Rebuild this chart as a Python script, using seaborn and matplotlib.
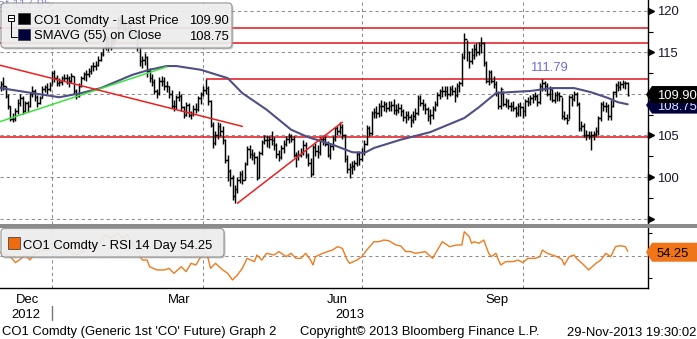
import matplotlib
matplotlib.use("Agg")
import matplotlib.pyplot as plt
import matplotlib.transforms as mtransforms
from matplotlib.patches import Polygon, FancyBboxPatch, Rectangle
from matplotlib.lines import Line2D
import numpy as np
import pandas as pd
import seaborn as sns

# ---------------------------------------------------------------- data
ticker = "CO1 Comdty"
first_session = "2012-11-29"
holidays = ["2012-12-25", "2013-01-01", "2013-03-29"]

close = [
    110.8, 111.2, 110.9, 109.8, 108.6, 107.0, 107.0, 107.9, 108.9, 109.5,
    107.9, 108.9, 108.6, 110.0, 110.4, 109.6, 108.9, 109.5, 110.6, 110.8,
    110.6, 111.1, 112.5, 111.9, 111.3, 111.4, 111.9, 111.9, 111.9, 111.6,
    112.2, 110.3, 109.7, 111.0, 111.9, 112.4, 112.4, 112.8, 113.3, 113.3,
    113.5, 114.1, 114.8, 115.6, 116.8, 115.6, 116.5, 116.6, 117.2, 118.9,
    118.4, 118.7, 117.8, 118.0, 117.7, 117.4, 117.5, 115.6, 113.9, 114.1,
    114.4, 112.7, 111.9, 111.4, 110.4, 110.1, 111.6, 111.6, 111.0, 110.9,
    110.0, 108.6, 108.5, 109.6, 109.8, 108.4, 107.5, 108.7, 107.5, 107.6,
    108.2, 108.2, 109.5, 110.0, 110.5, 110.7, 109.1, 106.3, 104.1, 105.0,
    106.2, 105.6, 104.5, 102.1, 100.7, 99.9, 97.7, 98.6, 99.7, 100.4,
    99.6, 101.6, 103.4, 102.8, 102.6, 102.4, 99.9, 102.9, 104.2, 104.5,
    104.4, 104.6, 104.4, 103.9, 102.8, 102.4, 103.5, 104.0, 104.6, 104.9,
    104.6, 102.7, 102.6, 102.6, 103.0, 103.9, 102.6, 101.7, 100.4, 103.6,
    103.1, 103.0, 104.6, 104.6, 104.0, 102.7, 103.7, 104.6, 105.9, 105.5,
    106.0, 105.1, 102.2, 101.0, 101.2, 101.3, 101.7, 102.8, 102.2, 103.0,
    104.0, 105.9, 105.3, 107.7, 107.8, 107.7, 108.5, 108.5, 108.8, 108.3,
    108.6, 108.7, 108.1, 108.1, 108.3, 107.9, 107.2, 107.5, 107.2, 106.9,
    107.4, 107.7, 109.5, 108.9, 108.7, 108.2, 107.4, 107.5, 108.2, 108.8,
    109.9, 110.4, 110.4, 110.4, 110.0, 110.6, 110.4, 109.9, 111.0, 111.3,
    114.4, 116.6, 115.0, 114.0, 114.7, 115.4, 115.0, 115.9, 116.1, 113.7,
    111.5, 112.6, 111.6, 111.2, 110.1, 108.6, 110.6, 108.8, 109.2, 108.6,
    108.6, 108.3, 107.7, 108.6, 108.4, 107.9, 109.2, 109.0, 109.5, 109.7,
    109.7, 109.0, 111.0, 111.3, 111.0, 110.0, 110.6, 109.3, 109.9, 110.0,
    109.7, 107.3, 107.1, 106.9, 109.6, 109.4, 110.0, 108.8, 105.9, 106.2,
    105.1, 105.0, 104.9, 105.1, 105.2, 105.6, 107.1, 108.8, 108.5, 108.5,
    107.3, 108.6, 110.2, 111.1, 110.8, 111.2, 111.3, 111.3, 109.9,
]
high = [
    111.4, 111.6, 112.0, 111.0, 110.0, 108.6, 107.7, 108.3, 109.4, 110.0,
    109.8, 109.2, 109.2, 110.2, 110.9, 110.6, 109.9, 109.8, 110.9, 111.1,
    111.3, 111.4, 112.8, 112.9, 112.3, 111.9, 112.2, 112.4, 112.4, 112.2,
    112.5, 112.2, 110.6, 111.3, 112.1, 112.6, 112.9, 113.1, 113.5, 113.8,
    114.0, 114.5, 115.0, 115.8, 117.0, 116.9, 116.8, 117.0, 117.5, 119.2,
    119.5, 119.0, 118.9, 118.4, 118.5, 118.0, 118.0, 117.6, 115.7, 114.6,
    114.9, 114.5, 113.1, 112.4, 111.8, 110.6, 112.0, 112.2, 112.0, 111.6,
    111.0, 110.5, 109.3, 109.9, 110.3, 110.0, 108.6, 109.0, 108.9, 107.9,
    108.7, 108.9, 109.7, 110.2, 110.9, 111.79, 111.0, 109.3, 106.6, 105.5,
    106.6, 106.5, 106.1, 104.6, 102.7, 101.0, 100.2, 99.0, 100.0, 100.7,
    100.9, 101.8, 103.7, 103.8, 103.4, 103.0, 102.5, 103.1, 104.5, 105.1,
    105.0, 104.9, 105.5, 104.8, 104.1, 103.3, 103.9, 104.5, 104.9, 105.3,
    105.2, 104.9, 103.0, 103.3, 103.5, 104.5, 104.2, 102.9, 102.3, 103.9,
    104.1, 103.8, 104.8, 105.0, 104.9, 104.3, 104.0, 104.9, 106.0, 106.1,
    106.6, 106.4, 105.2, 102.6, 101.7, 101.9, 102.1, 103.1, 103.1, 103.5,
    104.4, 106.3, 106.1, 108.0, 108.3, 108.5, 108.9, 109.3, 109.1, 109.0,
    109.2, 109.2, 109.4, 108.8, 108.9, 108.8, 108.2, 107.9, 107.9, 107.6,
    107.9, 108.3, 109.9, 109.9, 109.4, 108.9, 108.4, 108.2, 108.5, 109.2,
    110.2, 110.6, 111.0, 110.9, 111.0, 110.9, 111.1, 110.8, 111.3, 111.6,
    114.9, 117.3, 116.5, 115.2, 115.5, 116.0, 116.1, 116.2, 116.8, 116.2,
    114.0, 112.9, 112.9, 112.1, 111.6, 110.3, 110.8, 110.4, 109.5, 109.4,
    109.0, 109.1, 108.6, 108.9, 109.0, 108.5, 109.4, 109.6, 109.9, 110.0,
    110.2, 110.0, 111.3, 111.79, 111.6, 111.3, 111.0, 110.6, 110.2, 110.4,
    110.2, 109.6, 107.9, 107.6, 109.9, 110.0, 110.4, 110.2, 109.0, 106.7,
    106.5, 105.7, 105.6, 105.6, 105.6, 106.0, 107.3, 109.0, 109.1, 109.0,
    108.8, 109.3, 110.4, 111.3, 111.5, 111.6, 111.7, 111.6, 111.4,
]
low = [
    110.0, 110.4, 110.5, 109.5, 108.2, 106.7, 106.6, 106.8, 107.6, 108.5,
    107.6, 107.8, 107.8, 108.4, 109.6, 109.2, 108.4, 108.8, 109.5, 110.2,
    110.0, 110.4, 111.2, 111.4, 111.0, 110.9, 111.1, 111.5, 111.2, 110.8,
    111.3, 110.0, 109.4, 109.6, 110.8, 111.7, 111.6, 112.0, 112.4, 112.8,
    112.9, 113.3, 113.9, 114.5, 115.3, 115.2, 115.3, 115.8, 116.2, 117.0,
    117.8, 117.6, 117.4, 117.1, 117.3, 116.9, 116.8, 115.1, 113.4, 113.1,
    113.5, 112.0, 111.4, 110.9, 110.0, 109.5, 109.9, 110.9, 110.5, 110.2,
    109.5, 108.3, 107.9, 108.2, 109.1, 108.0, 107.1, 107.3, 107.2, 107.0,
    107.3, 107.7, 108.0, 108.8, 109.7, 110.0, 108.7, 106.0, 103.5, 103.8,
    104.6, 104.9, 104.0, 101.7, 99.5, 98.9, 97.3, 96.9, 98.1, 99.3,
    99.2, 99.7, 101.4, 102.3, 102.1, 101.6, 99.6, 99.9, 102.7, 104.0,
    103.6, 103.5, 103.9, 103.3, 102.3, 101.9, 102.2, 102.9, 103.7, 104.1,
    104.2, 102.4, 101.2, 102.0, 102.4, 102.6, 102.3, 101.3, 100.0, 100.2,
    102.5, 102.3, 102.6, 103.9, 103.7, 102.4, 102.2, 103.2, 104.3, 105.0,
    105.2, 104.6, 101.8, 100.5, 99.9, 100.4, 100.8, 101.3, 101.5, 101.9,
    102.6, 103.9, 104.9, 105.1, 107.1, 107.1, 107.2, 107.4, 107.9, 107.8,
    107.9, 107.9, 107.6, 107.5, 107.7, 107.3, 106.8, 106.5, 106.9, 106.0,
    106.5, 106.9, 107.5, 108.5, 108.1, 107.6, 106.7, 106.4, 107.0, 107.9,
    108.5, 109.4, 109.6, 109.8, 109.4, 109.7, 109.9, 109.0, 109.6, 110.2,
    110.9, 114.2, 114.0, 113.1, 113.6, 114.2, 114.6, 114.7, 114.9, 113.4,
    111.3, 111.1, 111.3, 110.7, 109.8, 108.2, 108.2, 108.6, 108.4, 108.2,
    107.9, 107.9, 107.2, 107.4, 107.4, 107.1, 107.4, 108.6, 108.7, 108.9,
    109.3, 108.6, 108.8, 110.4, 110.3, 109.7, 109.3, 109.0, 108.9, 109.1,
    109.2, 107.0, 106.9, 106.4, 107.0, 108.6, 109.2, 108.5, 105.5, 105.6,
    104.8, 104.5, 104.6, 103.3, 104.5, 104.9, 105.1, 106.8, 107.9, 107.8,
    106.9, 106.9, 108.4, 109.6, 110.3, 110.5, 110.7, 110.6, 109.7,
]

# 55-day simple moving average of the close (session number, value)
sma_session = [1, 14, 25, 34, 42, 55, 62, 69, 73, 83, 94, 100, 110, 120, 127,
               137, 145, 150, 154, 165, 177, 191, 197, 204, 209, 218, 227, 236,
               243, 250, 254, 258]
sma_value = [110.7, 110.1, 109.6, 110.1, 110.7, 112.3, 112.9, 113.35, 113.35,
             112.9, 111.9, 110.1, 108.1, 105.7, 104.8, 103.9, 103.0, 102.9,
             103.5, 104.5, 105.4, 107.1, 108.4, 110.1, 110.2, 110.35, 110.7,
             110.7, 110.2, 109.5, 109.0, 108.75]

# 14-day RSI (session number, value)
rsi_session = [1, 5, 7, 9, 11, 13, 15, 18, 21, 24, 27, 29, 32, 35, 38, 40, 43,
               44, 46, 49, 51, 53, 55, 57, 59, 61, 62, 65, 68, 70, 72, 75, 77,
               79, 81, 83, 85, 86, 87, 89, 92, 94, 96, 98, 100, 102, 105, 106,
               108, 110, 113, 115, 118, 120, 122, 124, 126, 128, 129, 130, 133,
               135, 137, 139, 141, 143, 144, 147, 149, 151, 154, 156, 158, 160,
               163, 165, 167, 169, 171, 175, 178, 180, 182, 185, 188, 190, 191,
               193, 194, 195, 197, 199, 201, 202, 204, 205, 206, 208, 211, 213,
               215, 217, 220, 222, 223, 225, 227, 229, 231, 232, 234, 236, 237,
               240, 242, 245, 247, 249, 251, 253, 255, 257, 258]
rsi_value = [53.3, 49.4, 44.1, 47.0, 50.9, 46.4, 52.4, 55.3, 55.3, 59.8, 58.3,
             53.9, 50.9, 53.9, 59.8, 59.8, 65.7, 68.7, 65.7, 70.1, 65.7, 68.7,
             61.3, 55.3, 46.4, 46.4, 40.5, 37.6, 37.6, 39.0, 34.6, 40.5, 36.1,
             43.5, 42.0, 49.4, 52.4, 47.9, 39.0, 43.5, 37.6, 34.6, 28.7, 33.1,
             39.0, 47.9, 45.0, 50.9, 46.4, 52.4, 50.9, 53.9, 49.4, 52.4, 47.9,
             47.9, 52.4, 46.4, 42.0, 49.4, 52.4, 53.9, 55.3, 58.3, 56.8, 46.4,
             43.5, 46.4, 49.4, 55.3, 62.7, 62.7, 64.2, 63.6, 59.8, 58.9, 53.9,
             53.9, 52.4, 53.9, 47.9, 55.3, 62.7, 58.3, 59.8, 59.8, 71.6, 67.2,
             61.3, 62.7, 61.3, 64.2, 52.4, 49.4, 52.4, 46.4, 42.0, 45.0, 45.0,
             46.4, 44.1, 47.9, 47.9, 49.4, 55.3, 52.4, 50.9, 49.4, 47.0, 42.0,
             49.4, 50.9, 47.9, 42.0, 37.6, 43.5, 46.4, 52.4, 49.4, 58.3, 59.2,
             58.3, 54.25]

# horizontal levels and trend lines
full_levels = [117.95, 116.10, 104.85]
resistance_level = 111.79
resistance_session = 85
uptrend_session, uptrend_price = [0, 69], [106.6, 113.25]
downtrend_session, downtrend_price = [0, 100], [113.5, 106.1]
rebound_session, rebound_price = [98, 141], [96.85, 106.6]

price_ticks = [95, 100, 105, 110, 115, 120]
price_tick_labels = ["", "100", "105", "110", "115", "120"]
rsi_ticks = [30, 70]
quarter_months = [1, 4, 7, 10]
labelled_months = {12: "Dec", 3: "Mar", 6: "Jun", 9: "Sep"}

# ---------------------------------------------------------------- style
sns.set_style("white")
plt.rcParams["font.family"] = ["Liberation Sans", "DejaVu Sans"]
FS = 9.4
INK = "#16162c"
GRID = dict(color="#8c8c8c", lw=0.75, ls=(0, (3, 3)), zorder=0)

W, H = 697, 339
fig = plt.figure(figsize=(W / 100, H / 100), dpi=100)
PX = mtransforms.IdentityTransform()


def top(y):
    """pixel row measured from the top edge -> display y"""
    return H - y


ax = fig.add_axes([0, 1 - 223.5 / H, 648 / W, 223.5 / H])
rax = fig.add_axes([0, 1 - 287.7 / H, 648 / W, (287.7 - 227.5) / H])
XLIM = (0.7, 266.3)

# session calendar
calendar = pd.bdate_range(first_session, "2013-12-31").drop(pd.to_datetime(holidays))
sessions = np.arange(len(close))
cal = pd.Series(np.arange(len(calendar)), index=calendar)
month_first = cal.groupby([calendar.year, calendar.month]).first().iloc[1:]
month_keys = list(month_first.index)
month_pos = list(month_first.values)

# ---------------------------------------------------------------- price panel
ax.set_xlim(*XLIM)
ax.set_ylim(94.42, 121.29)
for v in price_ticks:
    ax.axhline(v, **GRID)
for (yr, mo), p in zip(month_keys, month_pos):
    if mo in quarter_months:
        ax.axvline(p, **GRID)
        rax.axvline(p, **GRID)

for v in full_levels:
    ax.axhline(v, color="#e2141a", lw=1.1, zorder=2)
ax.hlines(resistance_level, resistance_session, XLIM[1], color="#e2141a", lw=1.1, zorder=2)

# OHLC bars (open tick taken at prior close)
ax.vlines(sessions, low, high, color="black", lw=1.05, zorder=3)
ax.hlines(close, sessions, sessions + 0.6, color="black", lw=1.0, zorder=3)
ax.hlines(close[:-1], sessions[1:] - 0.6, sessions[1:], color="black", lw=1.0, zorder=3)

sns.lineplot(x=sma_session, y=sma_value, ax=ax, color="#4f4f86", lw=1.5, zorder=4)
sns.lineplot(x=uptrend_session, y=uptrend_price, ax=ax, color="#3de33d", lw=1.1, zorder=4)
sns.lineplot(x=downtrend_session, y=downtrend_price, ax=ax, color="#ee2020", lw=1.1, zorder=4)
sns.lineplot(x=rebound_session, y=rebound_price, ax=ax, color="#ee2020", lw=1.1, zorder=4)

ax.text(225.7, resistance_level + 1.0, f"{resistance_level:.2f}", color="#6d6dd8",
        fontsize=FS, ha="center", va="baseline")

for sp in ["left", "top", "bottom"]:
    ax.spines[sp].set_visible(False)
ax.spines["right"].set_color("black")
ax.spines["right"].set_linewidth(1.0)
ax.yaxis.tick_right()
ax.set_yticks(price_ticks)
ax.set_yticklabels(price_tick_labels)
ax.set_yticks(np.arange(97.5, 121, 5), minor=True)
ax.tick_params(axis="y", which="major", length=0, pad=6.5, labelsize=FS, labelcolor=INK)
ax.tick_params(axis="y", which="minor", length=3.6, width=0.8, color="black", direction="out")
ax.set_xticks([])
ax.set_xlabel("")
ax.set_ylabel("")
tri = mtransforms.blended_transform_factory(ax.transAxes, ax.transData)
ax.plot(np.full(len(price_ticks), 1.0054), price_ticks, marker=">", ms=5, ls="none",
        color="black", transform=tri, clip_on=False)

# ---------------------------------------------------------------- RSI panel
rax.set_xlim(*XLIM)
rax.set_ylim(21.82, 75.33)
rax.axhline(50, **GRID)
sns.lineplot(x=rsi_session, y=rsi_value, ax=rax, color="#f07a1e", lw=1.0, zorder=3)
for sp in ["left", "top"]:
    rax.spines[sp].set_visible(False)
for sp in ["right", "bottom"]:
    rax.spines[sp].set_color("black")
    rax.spines[sp].set_linewidth(1.0)
rax.yaxis.tick_right()
rax.set_yticks(rsi_ticks)
rax.set_yticklabels([])
rax.tick_params(axis="y", length=3.2, width=0.8, color="black")
rax.set_xticks(month_pos)
rax.set_xticklabels([])
rax.tick_params(axis="x", length=2.6, width=0.8, color="black", direction="out")
rax.set_xlabel("")
rax.set_ylabel("")

# month and year labels under the axis
xt = mtransforms.blended_transform_factory(rax.transData, PX)
for i, ((yr, mo), p) in enumerate(zip(month_keys, month_pos)):
    if mo in labelled_months and i + 1 < len(month_pos):
        fig.text((p + month_pos[i + 1]) / 2, top(302.7), labelled_months[mo],
                 transform=xt, ha="center", va="baseline", fontsize=FS, color="black")
year_start = month_pos[month_keys.index((2013, 1))]
fig.text((XLIM[0] + year_start) / 2, top(318), "2012", transform=xt, ha="center",
         va="baseline", fontsize=FS, color="black")
fig.text((year_start + XLIM[1]) / 2, top(318), "2013", transform=xt, ha="center",
         va="baseline", fontsize=FS, color="black")
fig.add_artist(Line2D([year_start, year_start], [top(306), top(320)], transform=xt,
                      color="#777777", lw=1.0))

# ---------------------------------------------------------------- panel separator
fig.add_artist(Rectangle((0, top(227.5)), W, 4, transform=PX, fc="#8b8b8b", ec="none", zorder=1))

# ---------------------------------------------------------------- legends
fig.text(-2, top(8), f"at {full_levels[0]:.2f}", transform=PX, color="#8c8ce6",
         fontsize=FS, va="baseline", ha="left", zorder=0.5)


def legend_box(x0, y0, x1, y1):
    fig.add_artist(FancyBboxPatch((x0 + 1.5, top(y1) - 1.5), x1 - x0, y1 - y0,
                                  boxstyle="round,pad=0,rounding_size=4", transform=PX,
                                  fc="#9a9a9a", ec="none", alpha=0.5, zorder=1))
    fig.add_artist(FancyBboxPatch((x0, top(y1)), x1 - x0, y1 - y0,
                                  boxstyle="round,pad=0,rounding_size=4", transform=PX,
                                  fc="#f3f3f3", ec="#8e8e8e", lw=0.9, alpha=0.86, zorder=1.1))


def swatch(x, y, w, h, color):
    fig.add_artist(Rectangle((x, top(y + h)), w, h, transform=PX, fc=color,
                             ec="#303030", lw=0.5, zorder=1.2))


legend_box(1, 3, 232, 48)
fig.add_artist(Rectangle((7.5, top(21)), 6, 6, transform=PX, fc="white", ec="black", lw=0.7, zorder=1.2))
fig.add_artist(Line2D([9, 12.5], [top(18), top(18)], transform=PX, color="black", lw=0.7, zorder=1.3))
fig.add_artist(Line2D([10.5, 10.5, 16.5], [top(21), top(36.5), top(36.5)], transform=PX,
                      color="black", lw=0.7, zorder=1.2))
swatch(18, 13, 12, 11, "black")
swatch(18, 29, 12, 11, "#00003c")
fig.text(34, top(24), f"{ticker} - Last Price", transform=PX, fontsize=FS, color="black",
         va="baseline", zorder=3)
fig.text(229, top(24), f"{close[-1]:.2f}", transform=PX, fontsize=FS, color="black",
         va="baseline", ha="right", zorder=3)
fig.text(34, top(39.5), "SMAVG (55) on Close", transform=PX, fontsize=FS, color="black",
         va="baseline", zorder=3)
fig.text(229, top(39.5), f"{sma_value[-1]:.2f}", transform=PX, fontsize=FS, color="black",
         va="baseline", ha="right", zorder=3)

legend_box(1, 228.5, 224, 257)
swatch(8, 237, 12, 12, "#f06a10")
fig.text(23, top(248.5), f"{ticker} - RSI 14 Day {rsi_value[-1]:.2f}", transform=PX,
         fontsize=FS, color="black", va="baseline", zorder=3)


# ---------------------------------------------------------------- value tags
def value_tag(axis, value, face, ink, z, shift=0.0, half=8.5):
    yc = axis.transData.transform((0, value))[1] + shift
    pts = [(646, yc), (652, yc + half), (W, yc + half), (W, yc - half), (652, yc - half)]
    fig.add_artist(Polygon(pts, closed=True, transform=PX, fc=face, ec="none", zorder=z))
    fig.text(657, yc, f"{value:.2f}", transform=PX, color=ink, fontsize=FS,
             va="center_baseline", ha="left", zorder=z + 0.05)


value_tag(ax, sma_value[-1], "#00003a", "#dfe4ff", 2.0, shift=-0.8)
value_tag(ax, close[-1], "black", "white", 2.2, shift=0.2)
value_tag(rax, rsi_value[-1], "#f07418", "black", 2.0, shift=-1.0, half=9.5)

# ---------------------------------------------------------------- footer
fig.text(2, top(335.5), f"{ticker} (Generic 1st 'CO' Future) Graph 2", transform=PX,
         fontsize=FS, color="black", va="baseline")
fig.text(300, top(335.5), "Copyright\u00a9 2013 Bloomberg Finance L.P.", transform=PX,
         fontsize=FS, color="black", va="baseline")
fig.text(696, top(335.5), "29-Nov-2013 19:30:02", transform=PX, fontsize=FS,
         color="black", va="baseline", ha="right")

fig.savefig("out.png", dpi=100, facecolor="white")
